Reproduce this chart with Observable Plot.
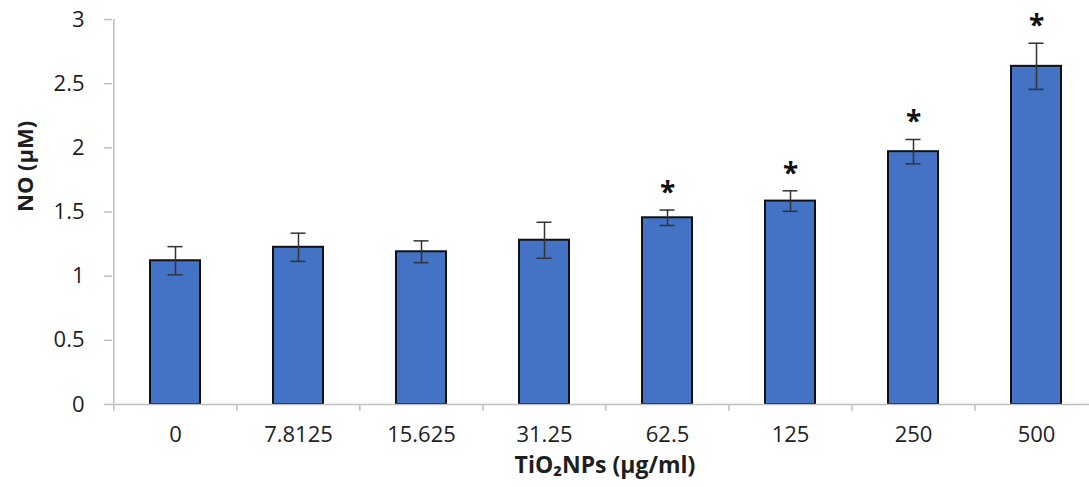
<!DOCTYPE html>
<html>
<head>
<meta charset="utf-8">
<script src="https://cdn.jsdelivr.net/npm/d3@7"></script>
<script src="https://cdn.jsdelivr.net/npm/@observablehq/plot@0.6"></script>
<style>
  body { margin: 0; background: #fff; }
  svg { font-family: "Open Sans", sans-serif; }
</style>
</head>
<body>
<div id="chart"></div>
<script>
const categories = ["0", "7.8125", "15.625", "31.25", "62.5", "125", "250", "500"];
const values = [1.12, 1.225, 1.19, 1.28, 1.455, 1.585, 1.97, 2.635];
const errors = [0.11, 0.11, 0.085, 0.14, 0.06, 0.08, 0.095, 0.18];
const significant = [false, false, false, false, true, true, true, true];
const yTicks = [0, 0.5, 1, 1.5, 2, 2.5, 3];

const data = categories.map((c, i) => ({cat: c, v: values[i], e: errors[i], sig: significant[i]}));

const W = 1089, H = 487;
const left = 112, rightEnd = 1099;
const step = (rightEnd - left) / categories.length;
const gray = "#bfbfbf";
const ink = "#1e1e1e";

const chart = Plot.plot({
  width: W,
  height: H,
  marginLeft: left,
  marginRight: 0,
  marginTop: 19,
  marginBottom: 83,
  style: {fontFamily: "'Open Sans', sans-serif", background: "#fff"},
  x: {type: "band", domain: categories, range: [left, rightEnd], paddingInner: 0.595, paddingOuter: 0.2975, label: null},
  y: {domain: [0, 3], label: null},
  marks: [
    Plot.barY(data, {x: "cat", y: "v", fill: "#4472C4", stroke: "#111", strokeWidth: 2}),
    Plot.ruleX(data, {x: "cat", y1: d => d.v - d.e, y2: d => d.v + d.e, stroke: "#333", strokeWidth: 1.5}),
    Plot.tickY(data, {x: "cat", y: d => d.v - d.e, stroke: "#333", strokeWidth: 1.5, insetLeft: 17.5, insetRight: 17.5}),
    Plot.tickY(data, {x: "cat", y: d => d.v + d.e, stroke: "#333", strokeWidth: 1.5, insetLeft: 17.5, insetRight: 17.5}),
    Plot.text(data.filter(d => d.sig), {x: "cat", y: d => d.v + d.e, text: () => "*", dy: -8, fontSize: 28, fontWeight: "bold", fill: "#111", lineAnchor: "bottom"}),
    Plot.ruleY([0], {stroke: gray, strokeWidth: 1.5}),
    Plot.ruleX([categories[0]], {x: d => d, dx: -step / 2, y1: 0, y2: 3, stroke: gray, strokeWidth: 1.5}),
    Plot.axisX({tickSize: 7, tickFormat: () => "", dx: -step / 2, stroke: gray, strokeWidth: 1.5}),
    Plot.axisX({tickSize: 0, tickPadding: 22, fontSize: 22, fill: ink, style: {letterSpacing: "1.5px"}}),
    Plot.axisY({ticks: yTicks, tickSize: 8, tickPadding: 20, fontSize: 22, fill: ink, stroke: gray, strokeWidth: 1.5, tickFormat: d => String(d), style: {letterSpacing: "1px"}}),
    Plot.text(["NO (µM)"], {frameAnchor: "left", dx: -87, rotate: -90, fontSize: 22, fontWeight: "bold", fill: ink}),
    Plot.text(["TiO₂NPs (µg/ml)"], {frameAnchor: "bottom", dx: 4, dy: 68, fontSize: 23, fontWeight: "bold", fill: ink, style: {letterSpacing: "0.5px"}})
  ]
});
document.getElementById("chart").appendChild(chart);
</script>
</body>
</html>
